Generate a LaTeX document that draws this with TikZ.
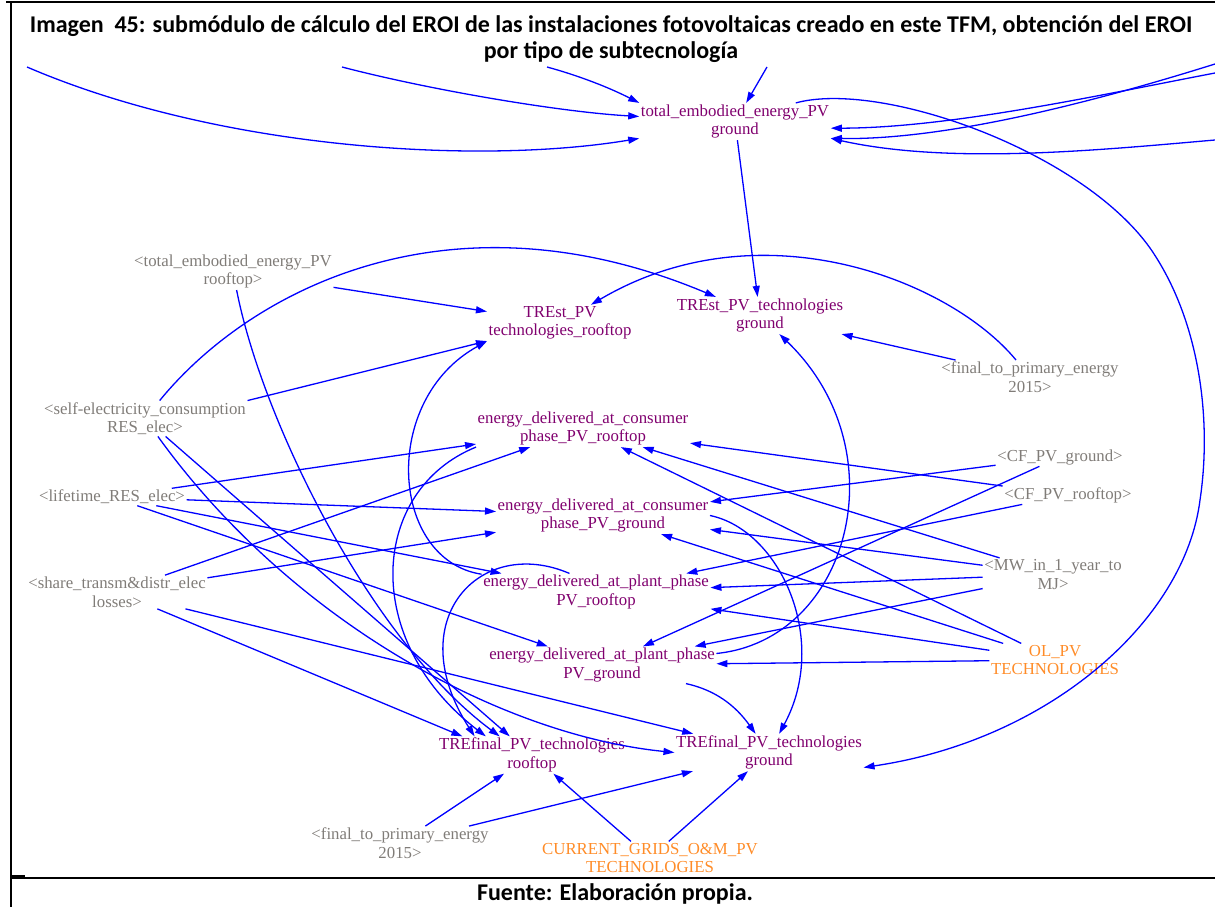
\documentclass[tikz,border=0pt]{standalone}
\usepackage{fontspec}
\setmainfont{Liberation Serif}
\newfontfamily\capfont{Carlito}
\usetikzlibrary{arrows.meta}

\definecolor{varcol}{RGB}{128,0,110}
\definecolor{shadowcol}{RGB}{128,124,120}
\definecolor{constcol}{RGB}{255,140,40}
\definecolor{linkcol}{RGB}{0,0,255}

\newcommand{\vensimfont}{\fontsize{16.8}{18.5}\selectfont}
\newcommand{\capsize}{\capfont\bfseries\fontsize{24}{26}\selectfont}

\begin{document}
\begin{tikzpicture}[x=1pt,y=-1pt,
  var/.style={font=\vensimfont, align=center, inner sep=1.5pt, text=varcol},
  shadowvar/.style={var, text=shadowcol},
  constvar/.style={var, text=constcol},
  conn/.style={draw=linkcol, line width=1.3pt, -{Triangle[length=11pt,width=7pt]}},
  captext/.style={font=\capsize, align=center, text=black, inner sep=0pt}]

\useasboundingbox (0,0) rectangle (1215,907);

% table frame around the figure
\draw[line width=2pt] (6,2) -- (1215,2);
\draw[line width=2pt] (11,2) -- (11,907);
\draw[line width=1.5pt] (11,878) -- (1215,878);
\draw[line width=2.5pt] (12,876.5) -- (25,876.5);

% caption and source
\node[captext] (title) at (611,39) {Imagen~\ 45: submódulo de cálculo del EROI de las instalaciones fotovoltaicas creado en este TFM, obtención del EROI\\por tipo de subtecnología};
\node[captext] (source) at (615,894) {Fuente: Elaboración propia.};

% variables
\node[var] (teeg) at (735,121.5) {total\_embodied\_energy\_PV\\ground};
\node[shadowvar] (teer) at (233,271.5) {<total\_embodied\_energy\_PV\\rooftop>};
\node[var] (trestr) at (560,323) {TREst\_PV\\technologies\_rooftop};
\node[var] (trestg) at (760,315.5) {TREst\_PV\_technologies\\ground};
\node[shadowvar] (ftpa) at (1030,377) {<final\_to\_primary\_energy\\2015>};
\node[shadowvar] (self) at (145,418.5) {<self-electricity\_consumption\\RES\_elec>};
\node[var] (edcr) at (583,428.5) {energy\_delivered\_at\_consumer\\phase\_PV\_rooftop};
\node[shadowvar] (cfg) at (1060,457) {<CF\_PV\_ground>};
\node[shadowvar] (life) at (112,497) {<lifetime\_RES\_elec>};
\node[shadowvar] (cfr) at (1068,495) {<CF\_PV\_rooftop>};
\node[var] (edcg) at (603,515.5) {energy\_delivered\_at\_consumer\\phase\_PV\_ground};
\node[shadowvar] (share) at (117,592) {<share\_transm\&distr\_elec\\losses>};
\node[shadowvar] (mw) at (1053,574.5) {<MW\_in\_1\_year\_to\\MJ>};
\node[var] (edpr) at (596,592) {energy\_delivered\_at\_plant\_phase\\PV\_rooftop};
\node[var] (edpg) at (602,665) {energy\_delivered\_at\_plant\_phase\\PV\_ground};
\node[constvar] (ol) at (1055,660) {OL\_PV\\TECHNOLOGIES};
\node[var] (trfr) at (532,755) {TREfinal\_PV\_technologies\\rooftop};
\node[var] (trfg) at (769,752.5) {TREfinal\_PV\_technologies\\ground};
\node[shadowvar] (ftpb) at (400,843) {<final\_to\_primary\_energy\\2015>};
\node[constvar] (cur) at (650,858) {CURRENT\_GRIDS\_O\&M\_PV\\TECHNOLOGIES};

% links entering from the cut-off part of the model
\coordinate (in1) at (27,67);
\coordinate (in2) at (342,67);
\coordinate (in3) at (547,67);
\coordinate (in4) at (767,67);
\coordinate (in5) at (1215,73);
\coordinate (in6) at (1215,64);
\coordinate (in7) at (1215,140);

\draw[conn] (in1) .. controls (220,150) and (480,165) .. (teeg.190);
\draw[conn] (in2) .. controls (430,90) and (560,112) .. (teeg.177);
\draw[conn] (in3) .. controls (580,76) and (610,88) .. (teeg.north west);
\draw[conn] (in4) -- (teeg.59);
\draw[conn] (in5) .. controls (1100,95) and (950,128) .. (teeg.-4);
\draw[conn] (in6) .. controls (1100,100) and (950,140) .. (teeg.-10);
\draw[conn] (in7) .. controls (1100,150) and (950,165) .. (teeg.-10);

% embodied energy and static TRE
\draw[conn] (teeg) -- (trestg);
\draw[conn] (teeg.17) .. controls (880,80) and (1080,150) .. (1150,248)
  .. controls (1200,320) and (1212,420) .. (1200,500)
  .. controls (1185,620) and (1050,740) .. (trfg.-9);
\draw[conn] (teer) -- (trestr);
\draw[conn] (self.north east) -- (trestr);
\draw[conn] (self) .. controls (250,290) and (450,185) .. (trestg);
\draw[conn] (ftpa) -- (trestg);
\draw[conn] (ftpa) .. controls (950,280) and (760,205) .. (trestr);
\draw[conn] (edpr) .. controls (390,560) and (380,400) .. (trestr.south west);
\draw[conn] (edpg) .. controls (850,640) and (900,450) .. (trestg);

% energy delivered at consumer phase
\draw[conn] (life) -- (edcr);
\draw[conn] (share) -- (edcr);
\draw[conn] (cfr) -- (edcr);
\draw[conn] (mw) -- (edcr);
\draw[conn] (ol) -- (edcr);
\draw[conn] (life) -- (edcg);
\draw[conn] (share) -- (edcg);
\draw[conn] (cfg) -- (edcg);
\draw[conn] (mw) -- (edcg);
\draw[conn] (ol) -- (edcg);

% energy delivered at plant phase
\draw[conn] (life) -- (edpr);
\draw[conn] (cfr) -- (edpr);
\draw[conn] (mw) -- (edpr);
\draw[conn] (ol) -- (edpr);
\draw[conn] (life) -- (edpg);
\draw[conn] (cfg) -- (edpg);
\draw[conn] (mw) -- (edpg);
\draw[conn] (ol) -- (edpg);

% final TRE, rooftop
\draw[conn] (share) -- (trfr.165);
\draw[conn] (edpr.145) .. controls (480,535) and (400,620) .. (trfr.162);
\draw[conn] (edcr.south west) .. controls (370,490) and (360,640) .. (trfr.158);
\draw[conn] (teer) .. controls (262,420) and (370,640) .. (trfr.150);
\draw[conn] (self) -- (trfr.140);
\draw[conn] (ftpb) -- (trfr);
\draw[conn] (cur) -- (trfr);

% final TRE, ground
\draw[conn] (share) -- (trfg);
\draw[conn] (self) .. controls (290,620) and (500,735) .. (trfg.west);
\draw[conn] (ftpb) -- (trfg);
\draw[conn] (cur) -- (trfg);
\draw[conn] (edpg) .. controls (715,690) and (735,705) .. (trfg);
\draw[conn] (edcg.east) .. controls (780,530) and (830,640) .. (trfg);

\end{tikzpicture}
\end{document}
